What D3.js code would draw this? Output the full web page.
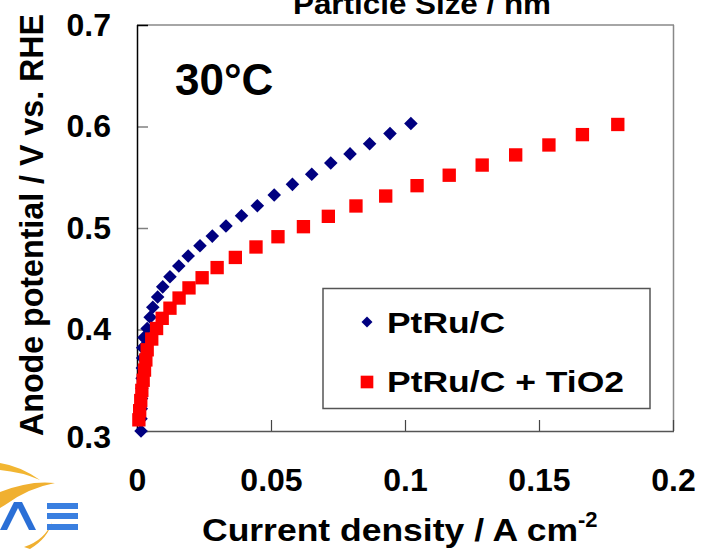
<!DOCTYPE html>
<html>
<head>
<meta charset="utf-8">
<script src="https://cdn.jsdelivr.net/npm/d3@7"></script>
<style>
  html, body { margin: 0; padding: 0; background: #fff; }
  svg { display: block; }
  text { font-family: "Liberation Sans", Arial, Helvetica, sans-serif; font-weight: bold; fill: #000; }
</style>
</head>
<body>
<svg id="chart" width="702" height="549"></svg>
<script>
// ---- data ----
const xTicks = [0, 0.05, 0.1, 0.15, 0.2];
const yTicks = [0.3, 0.4, 0.5, 0.6, 0.7];
const xTickLabels = ["0", "0.05", "0.1", "0.15", "0.2"];
const yTickLabels = ["0.3", "0.4", "0.5", "0.6", "0.7"];
const seriesNames = ["PtRu/C", "PtRu/C + TiO2"];

const ptruX = [0.0015,0.0015,0.0016,0.0017,0.0018,0.0019,0.0020,0.0021,0.0021,0.0026,0.0038,0.0049,0.0059,0.0077,0.0096,0.0123,0.0156,0.0191,0.0235,0.0281,0.0332,0.0390,0.0449,0.0512,0.0580,0.0652,0.0723,0.0795,0.0868,0.0944,0.1022];
const ptruY = [0.300,0.312,0.322,0.332,0.342,0.352,0.362,0.372,0.382,0.392,0.401,0.412,0.422,0.432,0.442,0.452,0.4626,0.4724,0.4826,0.492,0.502,0.512,0.522,0.5325,0.543,0.553,0.564,0.573,0.583,0.593,0.603];

const tioX = [0.0007,0.0010,0.0014,0.0018,0.0023,0.0028,0.0033,0.0038,0.0055,0.0073,0.0094,0.0123,0.0157,0.0194,0.0243,0.0299,0.0367,0.0444,0.0526,0.0621,0.0714,0.0817,0.0928,0.1045,0.1165,0.1288,0.1413,0.1537,0.1662,0.1794];
const tioY = [0.311,0.320,0.330,0.340,0.350,0.360,0.370,0.380,0.3906,0.401,0.411,0.421,0.431,0.441,0.451,0.461,0.471,0.4813,0.4914,0.5013,0.5115,0.5217,0.5315,0.5417,0.552,0.562,0.572,0.5818,0.592,0.602];

// ---- layout ----
const svg = d3.select("#chart");
const L = 137, R = 673, T = 25, B = 431;
const x = d3.scaleLinear().domain([0, 0.2]).range([L, R]);
const y = d3.scaleLinear().domain([0.3, 0.7]).range([B, T]);

// frame
svg.append("line").attr("x1", L).attr("x2", R + 1).attr("y1", T).attr("y2", T)
  .attr("stroke", "#888").attr("stroke-width", 1.5);
svg.append("line").attr("x1", R + 0.5).attr("x2", R + 0.5).attr("y1", T).attr("y2", B)
  .attr("stroke", "#888").attr("stroke-width", 1.5);

// y axis
const yAxis = svg.append("g").attr("transform", `translate(${L},0)`)
  .call(d3.axisLeft(y).tickValues(yTicks).tickSize(-11).tickPadding(26)
    .tickFormat((d, i) => yTickLabels[i]));
yAxis.select(".domain").remove();
yAxis.selectAll(".tick line").attr("stroke", "#808080").attr("stroke-width", 1.5);
yAxis.selectAll(".tick text").attr("font-size", 32).attr("font-family", null)
  .style("font-family", '"Liberation Sans", Arial, sans-serif').style("font-weight", "bold").attr("fill", "#000");
yAxis.selectAll(".tick").filter(d => d === 0.3).select("text").attr("dy", "0.52em");
yAxis.selectAll(".tick").filter(d => d === 0.7).select("line").attr("stroke", "#000");

// x axis
const xAxis = svg.append("g").attr("transform", `translate(0,${B})`)
  .call(d3.axisBottom(x).tickValues(xTicks).tickSize(-11).tickPadding(37)
    .tickFormat((d, i) => xTickLabels[i]));
xAxis.select(".domain").remove();
xAxis.selectAll(".tick line").attr("stroke", "#444").attr("stroke-width", 1.2);
xAxis.selectAll(".tick text").attr("font-size", 32).attr("font-family", null)
  .style("font-family", '"Liberation Sans", Arial, sans-serif').style("font-weight", "bold").attr("fill", "#000");

// axis lines
svg.append("line").attr("x1", L).attr("x2", R + 1).attr("y1", B + 0.5).attr("y2", B + 0.5)
  .attr("stroke", "#555").attr("stroke-width", 1.5);
svg.append("line").attr("x1", L + 0.5).attr("x2", L + 0.5).attr("y1", T).attr("y2", B + 1)
  .attr("stroke", "#000").attr("stroke-width", 1.5);

// data markers
const diamond = d3.symbol().type(d3.symbolSquare).size(92);
const square = d3.symbol().type(d3.symbolSquare).size(178);

svg.append("g").selectAll("path").data(d3.range(ptruX.length)).join("path")
  .attr("d", diamond)
  .attr("transform", i => `translate(${x(ptruX[i])},${y(ptruY[i])}) rotate(45)`)
  .attr("fill", "#000080");

svg.append("g").selectAll("path").data(d3.range(tioX.length)).join("path")
  .attr("d", square)
  .attr("transform", i => `translate(${x(tioX[i])},${y(tioY[i])})`)
  .attr("fill", "#ff0000");

// legend
svg.append("rect").attr("x", 323).attr("y", 288.5).attr("width", 327).attr("height", 120)
  .attr("fill", "#fff").attr("stroke", "#555").attr("stroke-width", 1.5);
svg.append("path").attr("d", d3.symbol().type(d3.symbolSquare).size(60))
  .attr("transform", "translate(367,322) rotate(45)").attr("fill", "#000080");
svg.append("path").attr("d", d3.symbol().type(d3.symbolSquare).size(160))
  .attr("transform", "translate(367,382)").attr("fill", "#ff0000");
svg.append("text").attr("x", 387).attr("y", 333).attr("font-size", 30)
  .attr("textLength", 118).attr("lengthAdjust", "spacingAndGlyphs").text(seriesNames[0]);
svg.append("text").attr("x", 387).attr("y", 392).attr("font-size", 30)
  .attr("textLength", 237).attr("lengthAdjust", "spacingAndGlyphs").text(seriesNames[1]);

// annotation
svg.append("text").attr("x", 175).attr("y", 95).attr("font-size", 44).text("30°C");

// title (cut at top, as in the reference)
svg.append("text").attr("x", 293).attr("y", 14).attr("font-size", 30)
  .attr("textLength", 258).attr("lengthAdjust", "spacingAndGlyphs").text("Particle Size / nm");

// axis titles
svg.append("text").attr("x", 202).attr("y", 541).attr("font-size", 32)
  .attr("textLength", 376).attr("lengthAdjust", "spacingAndGlyphs").text("Current density / A cm");
svg.append("text").attr("x", 578).attr("y", 527).attr("font-size", 22).text("-2");
svg.append("text").attr("transform", "translate(43,225) rotate(-90)").attr("text-anchor", "middle")
  .attr("font-size", 34).attr("textLength", 422).attr("lengthAdjust", "spacingAndGlyphs")
  .text("Anode potential / V vs. RHE");

// logo (bottom-left)
const logo = svg.append("g");
logo.append("path").attr("d", "M0,463 Q20,466 40,480 Q22,472 0,470 Z").attr("fill", "#f2b632");
logo.append("path").attr("d", "M0,492 Q30,480 55,483 Q28,488 5,505 L0,508 Z").attr("fill", "#f0b030");
logo.append("path").attr("d", "M24,547 Q45,540 52,522 Q48,538 30,549 Z").attr("fill", "#f0b030");
logo.append("path").attr("d", "M0,530 L14,502 L22,502 L36,530 L29,530 L18,508 L7,530 Z").attr("fill", "#2a6fd6");
logo.append("rect").attr("x", 47).attr("y", 503).attr("width", 31).attr("height", 6).attr("fill", "#3a7fe0");
logo.append("rect").attr("x", 47).attr("y", 513).attr("width", 31).attr("height", 6).attr("fill", "#3a7fe0");
logo.append("rect").attr("x", 47).attr("y", 524).attr("width", 31).attr("height", 6).attr("fill", "#3a7fe0");
</script>
</body>
</html>
